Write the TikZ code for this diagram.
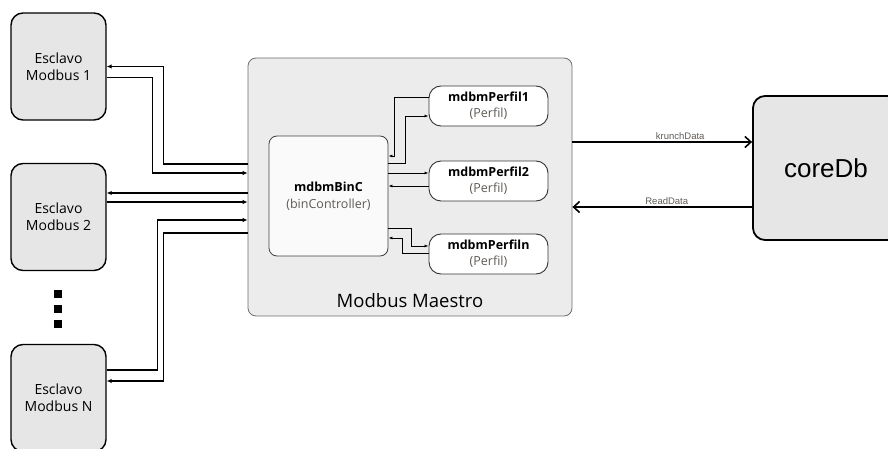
\documentclass[tikz,border=0pt]{standalone}
\usepackage{fontspec}
\setmainfont{Open Sans}
\newfontfamily\arialfont{Liberation Sans}
\usetikzlibrary{positioning}
\usetikzlibrary{arrows.meta}
\usetikzlibrary{calc}

\definecolor{cajagris}{RGB}{230,230,230}
\definecolor{maestrogris}{RGB}{236,236,236}
\definecolor{bordegris}{RGB}{110,110,110}
\definecolor{textogris}{RGB}{95,90,85}

\tikzset{
  esclavo/.style={draw=black, line width=1.4pt, fill=cajagris, rounded corners=12pt,
    minimum width=95pt, minimum height=107pt, align=center,
    font=\fontsize{14}{17}\selectfont},
  perfil/.style={draw=black!80, line width=0.9pt, fill=white, rounded corners=12pt,
    minimum width=119pt, minimum height=40pt, align=center, inner sep=1pt,
    font=\fontsize{12.5}{16}\selectfont},
  bus/.style={line width=1.5pt, -{Latex[length=5pt,width=4.5pt]}},
  interno/.style={line width=0.8pt, -{Latex[length=4pt,width=3pt]}},
  datos/.style={line width=1.6pt, -{Straight Barb[length=6pt,width=11pt]}},
  etiq/.style={font=\arialfont\fontsize{9.5}{11}\selectfont, text=textogris, inner sep=2pt},
}

\begin{document}
\begin{tikzpicture}[x=1pt, y=-1pt]
  \useasboundingbox (0,0) rectangle (888,449);

  % Esclavos
  \node[esclavo] (e1) at (58.5,66.5) {Esclavo\\Modbus 1};
  \node[esclavo] (e2) at (58.5,217) {Esclavo\\Modbus 2};
  \node[esclavo] (eN) at (58.5,398) {Esclavo\\Modbus N};
  \foreach \y in {294,309,324}
    \fill (54,\y-4) rectangle (62,\y+4);

  % Maestro
  \node[draw=bordegris, line width=0.8pt, fill=maestrogris, rounded corners=8pt,
        minimum width=324pt, minimum height=258pt] (ms) at (410,187) {};
  \node[font=\fontsize{18.5}{22}\selectfont] (titulo) at (410,301) {Modbus Maestro};
  \node[draw=black!75, line width=0.8pt, fill=black!2, rounded corners=8pt,
        minimum width=119pt, minimum height=120pt, align=center,
        font=\fontsize{12.5}{17}\selectfont] (bc) at (328.5,196)
        {\textbf{mdbmBinC}\\\textcolor{textogris}{(binController)}};
  \node[perfil] (p1) at (488.5,106) {\textbf{mdbmPerfil1}\\\textcolor{textogris}{(Perfil)}};
  \node[perfil] (p2) at (488.5,181) {\textbf{mdbmPerfil2}\\\textcolor{textogris}{(Perfil)}};
  \node[perfil] (pN) at (488.5,254) {\textbf{mdbmPerfiln}\\\textcolor{textogris}{(Perfil)}};

  % coreDb
  \node[draw=black, line width=1.8pt, fill=cajagris, rounded corners=12pt,
        minimum width=146pt, minimum height=144pt,
        font=\arialfont\fontsize{26}{30}\selectfont] (core) at (826,168) {coreDb};

  % Flechas entre esclavos y maestro
  \draw[bus] ([yshift=23pt]ms.west) -| ([xshift=57pt]e1.east) -- (e1.east);
  \draw[bus] ([yshift=-11pt]e1.east) -- ++(46,0) |- ([yshift=14pt]ms.west);
  \draw[bus] ([yshift=-6pt]ms.west) -- ([yshift=24pt]e2.east);
  \draw[bus] ([yshift=15pt]e2.east) -- ([yshift=-15pt]ms.west);
  \draw[bus] ([yshift=28pt]eN.east) -- ++(51,0) |- ([yshift=-33pt]ms.west);
  \draw[bus] ([yshift=-46pt]ms.west) -| ([xshift=57pt,yshift=17pt]eN.east) -- ([yshift=17pt]eN.east);

  % Flechas internas
  \draw[interno] ([yshift=9pt]p1.west) -- ++(-34,0) |- ([yshift=40pt]bc.east);
  \draw[interno] ([yshift=33pt]bc.east) -- ++(17,0) |- ([yshift=-10pt]p1.west);
  \draw[interno] ([yshift=23pt]bc.east) -- ([yshift=8pt]p2.west);
  \draw[interno] ([yshift=-5pt]p2.west) -- ([yshift=10pt]bc.east);
  \draw[interno] ([yshift=-32pt]bc.east) -- ++(23,0) |- ([yshift=8pt]pN.west);
  \draw[interno] ([yshift=1pt]pN.west) -- ++(-26,0) |- ([yshift=-42pt]bc.east);

  % Datos hacia coreDb
  \draw[datos] ([yshift=45pt]ms.east) -- node[etiq, above, pos=0.6] {krunchData} ([yshift=26pt]core.west);
  \draw[datos] ([yshift=-39pt]core.west) -- node[etiq, above, pos=0.475] {ReadData} ([yshift=-20pt]ms.east);
\end{tikzpicture}
\end{document}
